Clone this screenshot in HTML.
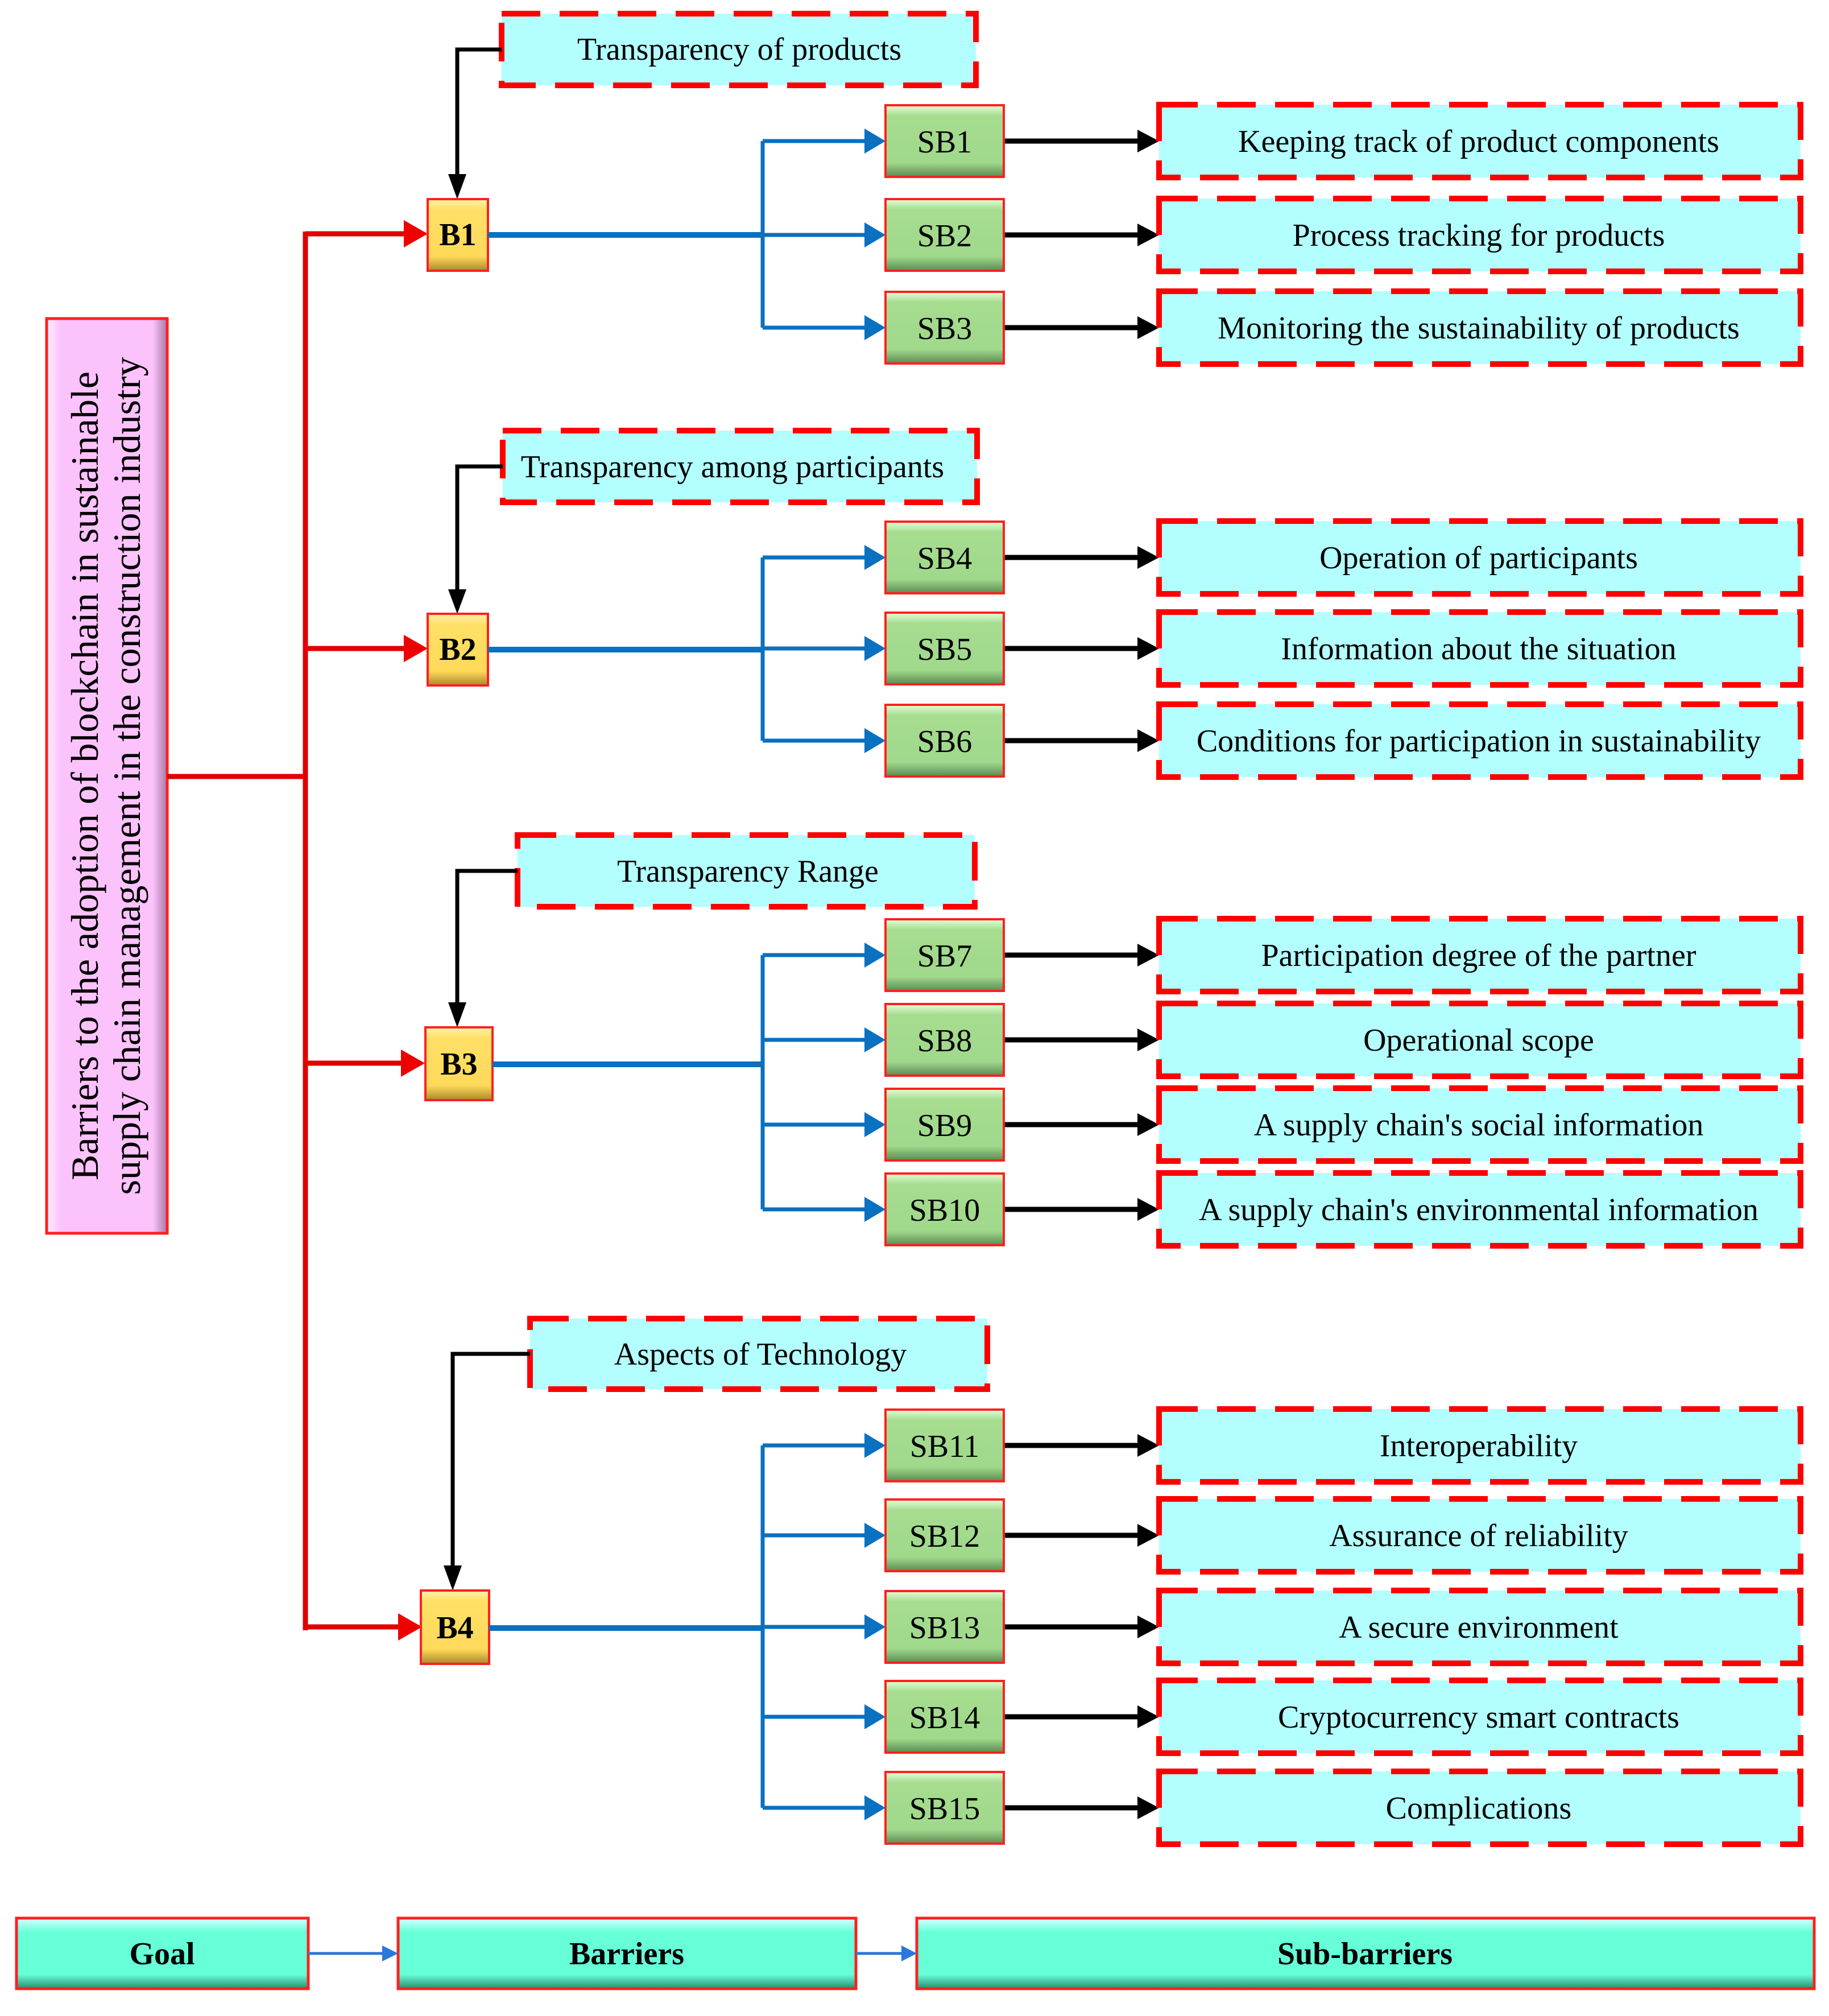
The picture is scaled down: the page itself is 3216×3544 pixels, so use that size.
<!DOCTYPE html>
<html><head><meta charset="utf-8"><style>
html,body{margin:0;padding:0;background:#fff;}
svg{display:block;}
text{font-family:"Liberation Serif",serif;fill:#000;}
</style></head><body>
<svg width="3216" height="3544" viewBox="0 0 3216 3544" xmlns="http://www.w3.org/2000/svg">
<defs>
<linearGradient id="gG" x1="0" y1="0" x2="0" y2="1">
<stop offset="0" stop-color="#e4ffd8"/><stop offset="0.15" stop-color="#a6dc8f"/><stop offset="0.8" stop-color="#a0d98c"/><stop offset="1" stop-color="#5c8a52"/></linearGradient>
<linearGradient id="gY" x1="0" y1="0" x2="0" y2="1">
<stop offset="0" stop-color="#fff3a8"/><stop offset="0.15" stop-color="#ffe066"/><stop offset="0.8" stop-color="#ffd95a"/><stop offset="1" stop-color="#a8882a"/></linearGradient>
<linearGradient id="gP" x1="0" y1="0" x2="1" y2="0">
<stop offset="0" stop-color="#fff0ff"/><stop offset="0.12" stop-color="#fcc2fc"/><stop offset="0.88" stop-color="#fcc2fc"/><stop offset="1" stop-color="#a67aa6"/></linearGradient>
<linearGradient id="gT" x1="0" y1="0" x2="0" y2="1">
<stop offset="0" stop-color="#d8ffff"/><stop offset="0.2" stop-color="#66ffd8"/><stop offset="0.8" stop-color="#66ffd8"/><stop offset="1" stop-color="#2a8a70"/></linearGradient>
</defs>

<!-- Goal pink box -->
<rect x="82" y="560" width="212" height="1608" fill="url(#gP)" stroke="#ff2020" stroke-width="5"/>
<text transform="translate(172,1364) rotate(-90)" text-anchor="middle" font-size="68">Barriers to the adoption of blockchain in sustainable</text>
<text transform="translate(246,1364) rotate(-90)" text-anchor="middle" font-size="68">supply chain management in the construction industry</text>

<!-- red trunk -->
<g stroke="#e00000" stroke-width="9" fill="none">
<line x1="294" y1="1365" x2="540" y2="1365"/>
<line x1="537" y1="407" x2="537" y2="2866"/>
<line x1="537" y1="411" x2="715" y2="411"/>
<line x1="537" y1="1140" x2="715" y2="1140"/>
<line x1="537" y1="1869" x2="710" y2="1869"/>
<line x1="537" y1="2860" x2="705" y2="2860"/>
</g>
<g fill="#ee0000">
<polygon points="710,387 752,411 710,435"/>
<polygon points="710,1116 752,1140 710,1164"/>
<polygon points="705,1845 747,1869 705,1893"/>
<polygon points="700,2836 742,2860 700,2884"/>
</g>

<!-- category label boxes -->
<g fill="#b3ffff" stroke="#ff0000" stroke-width="10" stroke-dasharray="68,34">
<rect x="882" y="24" width="834" height="126"/>
<rect x="884" y="757" width="834" height="126"/>
<rect x="910" y="1468" width="804" height="126"/>
<rect x="932" y="2318" width="804" height="124"/>
</g>
<g font-size="56" text-anchor="middle">
<text x="1300" y="105">Transparency of products</text>
<text x="1288" y="839">Transparency among participants</text>
<text x="1315" y="1550">Transparency Range</text>
<text x="1337" y="2399">Aspects of Technology</text>
</g>
<!-- black connectors to B -->
<g stroke="#000" stroke-width="7" fill="none">
<polyline points="882,87 804,87 804,310"/>
<polyline points="884,820 804,820 804,1040"/>
<polyline points="910,1531 804,1531 804,1766"/>
<polyline points="932,2380 796,2380 796,2756"/>
</g>
<g fill="#000">
<polygon points="788,306 820,306 804,350"/>
<polygon points="788,1036 820,1036 804,1079"/>
<polygon points="788,1762 820,1762 804,1806"/>
<polygon points="780,2752 812,2752 796,2796"/>
</g>

<!-- B boxes -->
<g stroke="#ff2020" stroke-width="4">
<rect x="752" y="350" width="106" height="126" fill="url(#gY)"/>
<rect x="752" y="1079" width="106" height="126" fill="url(#gY)"/>
<rect x="748" y="1806" width="118" height="128" fill="url(#gY)"/>
<rect x="740" y="2796" width="120" height="129" fill="url(#gY)"/>
</g>
<g font-size="56" font-weight="bold" text-anchor="middle">
<text x="805" y="431">B1</text>
<text x="805" y="1160">B2</text>
<text x="807" y="1889">B3</text>
<text x="800" y="2880">B4</text>
</g>

<!-- blue connectors -->
<g stroke="#0a70c0" stroke-width="10" fill="none">
<line x1="858" y1="413" x2="1341" y2="413"/>
<line x1="858" y1="1142" x2="1341" y2="1142"/>
<line x1="866" y1="1871" x2="1341" y2="1871"/>
<line x1="860" y1="2862" x2="1341" y2="2862"/>
</g>
<g stroke="#0a70c0" stroke-width="7" fill="none">
<line x1="1341" y1="248" x2="1341" y2="576"/>
<line x1="1341" y1="980" x2="1341" y2="1302"/>
<line x1="1341" y1="1679" x2="1341" y2="2126"/>
<line x1="1341" y1="2541" x2="1341" y2="3178"/>
<line x1="1341" y1="248" x2="1525" y2="248"/>
<line x1="1341" y1="413" x2="1525" y2="413"/>
<line x1="1341" y1="576" x2="1525" y2="576"/>
<line x1="1341" y1="980" x2="1525" y2="980"/>
<line x1="1341" y1="1140" x2="1525" y2="1140"/>
<line x1="1341" y1="1302" x2="1525" y2="1302"/>
<line x1="1341" y1="1679" x2="1525" y2="1679"/>
<line x1="1341" y1="1828" x2="1525" y2="1828"/>
<line x1="1341" y1="1977" x2="1525" y2="1977"/>
<line x1="1341" y1="2126" x2="1525" y2="2126"/>
<line x1="1341" y1="2541" x2="1525" y2="2541"/>
<line x1="1341" y1="2699" x2="1525" y2="2699"/>
<line x1="1341" y1="2860" x2="1525" y2="2860"/>
<line x1="1341" y1="3018" x2="1525" y2="3018"/>
<line x1="1341" y1="3178" x2="1525" y2="3178"/>
</g>
<g fill="#0a70c0">
<polygon points="1520,226 1557,248 1520,270"/>
<polygon points="1520,391 1557,413 1520,435"/>
<polygon points="1520,554 1557,576 1520,598"/>
<polygon points="1520,958 1557,980 1520,1002"/>
<polygon points="1520,1118 1557,1140 1520,1162"/>
<polygon points="1520,1280 1557,1302 1520,1324"/>
<polygon points="1520,1657 1557,1679 1520,1701"/>
<polygon points="1520,1806 1557,1828 1520,1850"/>
<polygon points="1520,1955 1557,1977 1520,1999"/>
<polygon points="1520,2104 1557,2126 1520,2148"/>
<polygon points="1520,2519 1557,2541 1520,2563"/>
<polygon points="1520,2677 1557,2699 1520,2721"/>
<polygon points="1520,2838 1557,2860 1520,2882"/>
<polygon points="1520,2996 1557,3018 1520,3040"/>
<polygon points="1520,3156 1557,3178 1520,3200"/>
</g>

<!-- black arrows SB -> boxes -->
<g stroke="#000" stroke-width="9">
<line x1="1765" y1="248" x2="2005" y2="248"/>
<line x1="1765" y1="413" x2="2005" y2="413"/>
<line x1="1765" y1="576" x2="2005" y2="576"/>
<line x1="1765" y1="980" x2="2005" y2="980"/>
<line x1="1765" y1="1140" x2="2005" y2="1140"/>
<line x1="1765" y1="1302" x2="2005" y2="1302"/>
<line x1="1765" y1="1679" x2="2005" y2="1679"/>
<line x1="1765" y1="1828" x2="2005" y2="1828"/>
<line x1="1765" y1="1977" x2="2005" y2="1977"/>
<line x1="1765" y1="2126" x2="2005" y2="2126"/>
<line x1="1765" y1="2541" x2="2005" y2="2541"/>
<line x1="1765" y1="2699" x2="2005" y2="2699"/>
<line x1="1765" y1="2860" x2="2005" y2="2860"/>
<line x1="1765" y1="3018" x2="2005" y2="3018"/>
<line x1="1765" y1="3178" x2="2005" y2="3178"/>
</g>
<g fill="#000">
<polygon points="2000,228 2038,248 2000,268"/>
<polygon points="2000,393 2038,413 2000,433"/>
<polygon points="2000,556 2038,576 2000,596"/>
<polygon points="2000,960 2038,980 2000,1000"/>
<polygon points="2000,1120 2038,1140 2000,1160"/>
<polygon points="2000,1282 2038,1302 2000,1322"/>
<polygon points="2000,1659 2038,1679 2000,1699"/>
<polygon points="2000,1808 2038,1828 2000,1848"/>
<polygon points="2000,1957 2038,1977 2000,1997"/>
<polygon points="2000,2106 2038,2126 2000,2146"/>
<polygon points="2000,2521 2038,2541 2000,2561"/>
<polygon points="2000,2679 2038,2699 2000,2719"/>
<polygon points="2000,2840 2038,2860 2000,2880"/>
<polygon points="2000,2998 2038,3018 2000,3038"/>
<polygon points="2000,3158 2038,3178 2000,3198"/>
</g>

<!-- SB boxes -->
<g fill="url(#gG)" stroke="#ff2020" stroke-width="4">
<rect x="1557" y="185" width="208" height="126"/>
<rect x="1557" y="350" width="208" height="126"/>
<rect x="1557" y="513" width="208" height="126"/>
<rect x="1557" y="917" width="208" height="126"/>
<rect x="1557" y="1077" width="208" height="126"/>
<rect x="1557" y="1239" width="208" height="126"/>
<rect x="1557" y="1616" width="208" height="126"/>
<rect x="1557" y="1765" width="208" height="126"/>
<rect x="1557" y="1914" width="208" height="126"/>
<rect x="1557" y="2063" width="208" height="126"/>
<rect x="1557" y="2478" width="208" height="126"/>
<rect x="1557" y="2636" width="208" height="126"/>
<rect x="1557" y="2797" width="208" height="126"/>
<rect x="1557" y="2955" width="208" height="126"/>
<rect x="1557" y="3115" width="208" height="126"/>
</g>
<g font-size="56" text-anchor="middle">
<text x="1661" y="268">SB1</text>
<text x="1661" y="433">SB2</text>
<text x="1661" y="596">SB3</text>
<text x="1661" y="1000">SB4</text>
<text x="1661" y="1160">SB5</text>
<text x="1661" y="1322">SB6</text>
<text x="1661" y="1699">SB7</text>
<text x="1661" y="1848">SB8</text>
<text x="1661" y="1997">SB9</text>
<text x="1661" y="2146">SB10</text>
<text x="1661" y="2561">SB11</text>
<text x="1661" y="2719">SB12</text>
<text x="1661" y="2880">SB13</text>
<text x="1661" y="3038">SB14</text>
<text x="1661" y="3198">SB15</text>
</g>

<!-- right boxes -->
<g fill="#b3ffff" stroke="#ff0000" stroke-width="10" stroke-dasharray="68,34">
<rect x="2038" y="184" width="1128" height="128"/>
<rect x="2038" y="349" width="1128" height="128"/>
<rect x="2038" y="512" width="1128" height="128"/>
<rect x="2038" y="916" width="1128" height="128"/>
<rect x="2038" y="1076" width="1128" height="128"/>
<rect x="2038" y="1238" width="1128" height="128"/>
<rect x="2038" y="1615" width="1128" height="128"/>
<rect x="2038" y="1764" width="1128" height="128"/>
<rect x="2038" y="1913" width="1128" height="128"/>
<rect x="2038" y="2062" width="1128" height="128"/>
<rect x="2038" y="2477" width="1128" height="128"/>
<rect x="2038" y="2635" width="1128" height="128"/>
<rect x="2038" y="2796" width="1128" height="128"/>
<rect x="2038" y="2954" width="1128" height="128"/>
<rect x="2038" y="3114" width="1128" height="128"/>
</g>
<g font-size="56" text-anchor="middle">
<text x="2600" y="267">Keeping track of product components</text>
<text x="2600" y="432">Process tracking for products</text>
<text x="2600" y="595">Monitoring the sustainability of products</text>
<text x="2600" y="999">Operation of participants</text>
<text x="2600" y="1159">Information about the situation</text>
<text x="2600" y="1321">Conditions for participation in sustainability</text>
<text x="2600" y="1698">Participation degree of the partner</text>
<text x="2600" y="1847">Operational scope</text>
<text x="2600" y="1996">A supply chain's social information</text>
<text x="2600" y="2145">A supply chain's environmental information</text>
<text x="2600" y="2560">Interoperability</text>
<text x="2600" y="2718">Assurance of reliability</text>
<text x="2600" y="2879">A secure environment</text>
<text x="2600" y="3037">Cryptocurrency smart contracts</text>
<text x="2600" y="3197">Complications</text>
</g>

<!-- legend -->
<g fill="url(#gT)" stroke="#ff2020" stroke-width="5">
<rect x="29" y="3372" width="513" height="124"/>
<rect x="700" y="3372" width="805" height="124"/>
<rect x="1612" y="3372" width="1578" height="124"/>
</g>
<g stroke="#2a78d8" stroke-width="5">
<line x1="542" y1="3434" x2="685" y2="3434"/>
<line x1="1505" y1="3434" x2="1597" y2="3434"/>
</g>
<g fill="#2a78d8">
<polygon points="672,3420 700,3434 672,3448"/>
<polygon points="1585,3420 1612,3434 1585,3448"/>
</g>
<g font-size="56" font-weight="bold" text-anchor="middle">
<text x="285" y="3453">Goal</text>
<text x="1102" y="3453">Barriers</text>
<text x="2400" y="3453">Sub-barriers</text>
</g>
</svg>
</body></html>
